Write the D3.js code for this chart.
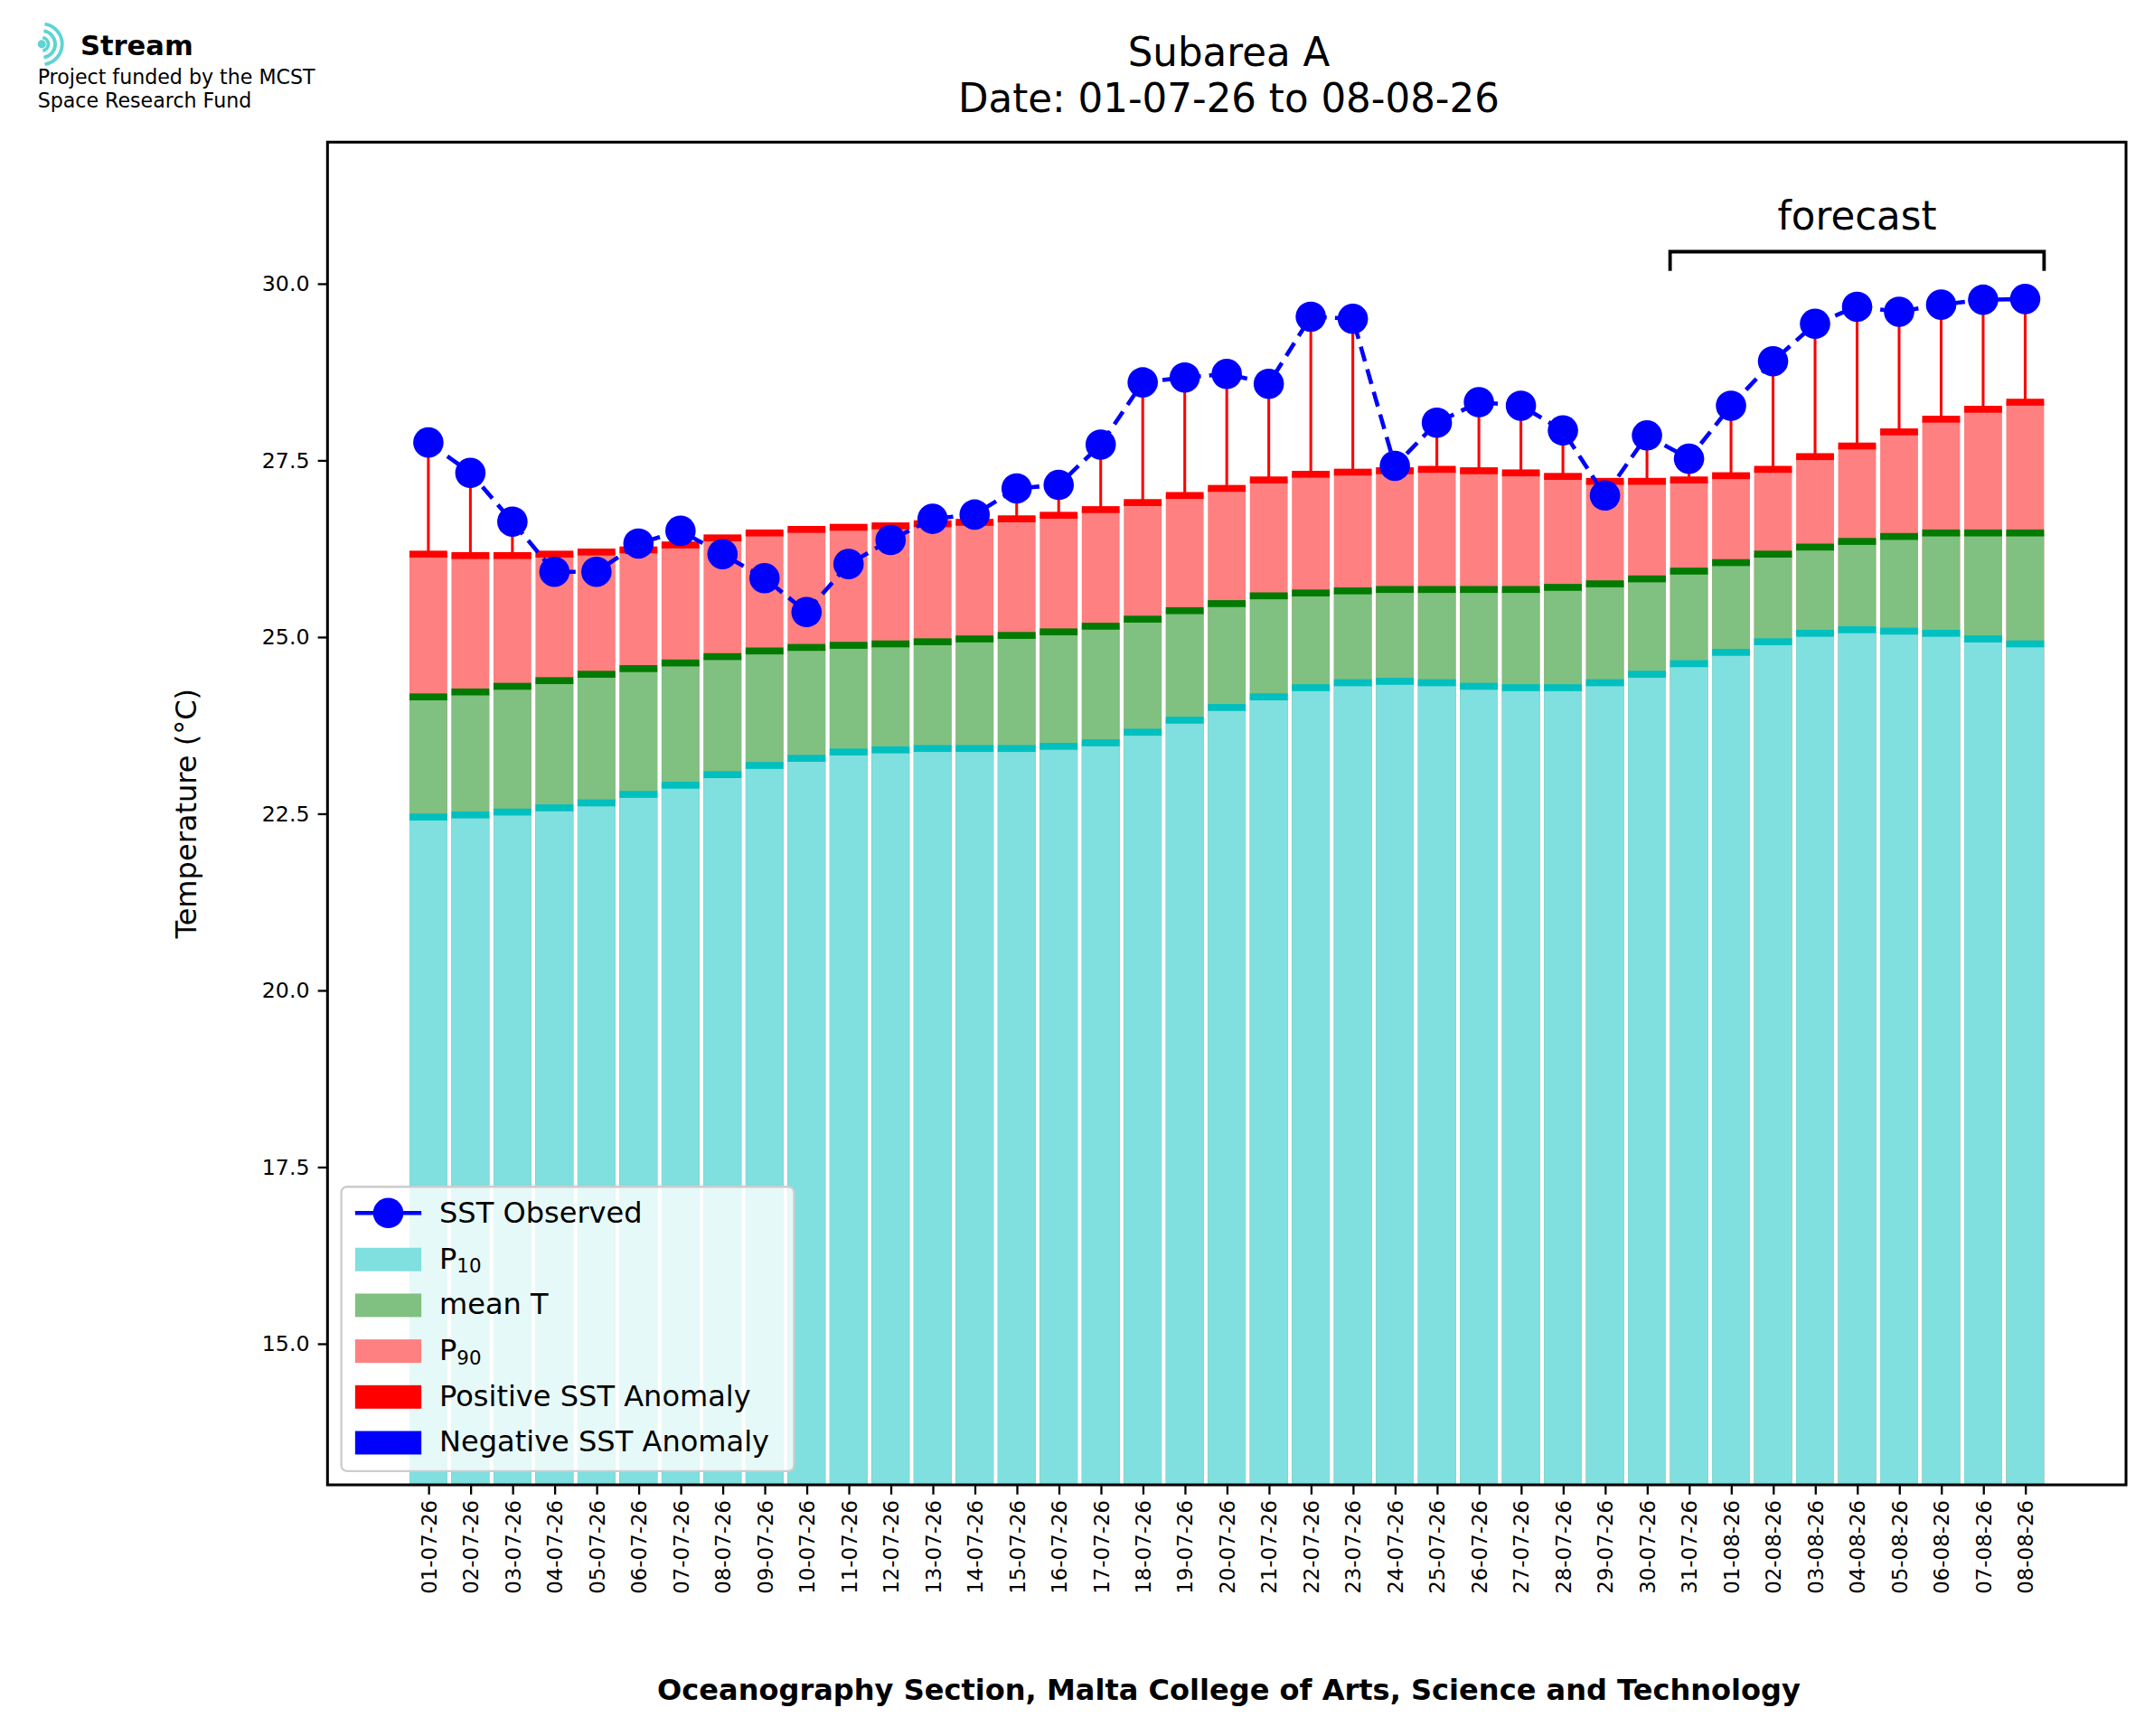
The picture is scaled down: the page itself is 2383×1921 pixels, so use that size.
<!DOCTYPE html>
<html><head><meta charset="utf-8">
<script src="https://cdn.jsdelivr.net/npm/d3@7"></script>
<style>body{margin:0;background:#fff}text{font-family:"DejaVu Sans",sans-serif}</style>
</head><body>
<svg width="2383" height="1921" viewBox="0 0 1560 1258"></svg>
<script>
var dates = ['01-07-26','02-07-26','03-07-26','04-07-26','05-07-26','06-07-26','07-07-26','08-07-26','09-07-26','10-07-26',
  '11-07-26','12-07-26','13-07-26','14-07-26','15-07-26','16-07-26','17-07-26','18-07-26','19-07-26','20-07-26',
  '21-07-26','22-07-26','23-07-26','24-07-26','25-07-26','26-07-26','27-07-26','28-07-26','29-07-26','30-07-26',
  '31-07-26','01-08-26','02-08-26','03-08-26','04-08-26','05-08-26','06-08-26','07-08-26','08-08-26'];
var p10 = [22.45,22.48,22.52,22.58,22.65,22.77,22.9,23.05,23.18,23.28,23.37,23.4,23.42,23.42,23.42,23.45,23.5,23.65,23.82,24.0,
  24.15,24.28,24.35,24.37,24.35,24.3,24.28,24.28,24.35,24.47,24.62,24.78,24.93,25.05,25.1,25.08,25.05,24.97,24.9];
var meanT = [24.15,24.22,24.3,24.38,24.47,24.55,24.63,24.72,24.8,24.85,24.88,24.9,24.93,24.97,25.02,25.07,25.15,25.25,25.37,25.47,
  25.58,25.62,25.65,25.67,25.67,25.67,25.67,25.7,25.75,25.82,25.93,26.05,26.17,26.27,26.35,26.42,26.47,26.47,26.47];
var p90 = [26.17,26.15,26.15,26.17,26.2,26.23,26.3,26.4,26.47,26.52,26.55,26.57,26.6,26.62,26.67,26.72,26.8,26.9,27.0,27.1,
  27.22,27.3,27.33,27.35,27.37,27.35,27.32,27.27,27.2,27.2,27.22,27.28,27.37,27.55,27.7,27.9,28.08,28.22,28.32];
var sst = [27.75,27.32,26.63,25.92,25.92,26.32,26.5,26.17,25.83,25.35,26.03,26.37,26.67,26.73,27.1,27.15,27.72,28.6,28.67,28.72,
  28.58,29.53,29.5,27.42,28.03,28.32,28.27,27.92,27.0,27.85,27.52,28.27,28.9,29.43,29.67,29.6,29.7,29.77,29.78];
var yTicks = [15.0,17.5,20.0,22.5,25.0,27.5,30.0];
var forecastStart = 30; // index of 31-07-26

var svg = d3.select('svg');
var L = 237, R = 1540, T = 103, B = 1076;
var x = d3.scaleLinear().domain([-2.4, 40.4]).range([L, R]);
var y = d3.scaleLinear().domain([13, 32]).range([B, T]);
var bw = x(0.9) - x(0);
var g = svg.append('g');
g.append('clipPath').attr('id','clip').append('rect').attr('x',L).attr('y',T).attr('width',R-L).attr('height',B-T);
var plot = g.append('g').attr('clip-path','url(#clip)');

function bars(vals, fill, cap) {
  plot.selectAll(null).data(vals).enter().append('rect')
    .attr('x', function(d,i){ return x(i) - bw/2; }).attr('width', bw)
    .attr('y', function(d){ return y(d); }).attr('height', function(d){ return y(13) - y(d); })
    .attr('fill', fill);
  plot.selectAll(null).data(vals).enter().append('rect')
    .attr('x', function(d,i){ return x(i) - bw/2; }).attr('width', bw)
    .attr('y', function(d){ return y(d) - 2.5; }).attr('height', 5)
    .attr('fill', cap);
}
bars(p90, '#ff8080', '#ff0000');
bars(meanT, '#80c080', '#007a00');
bars(p10, '#80dfdf', '#00bfbf');

sst.forEach(function(v,i){
  if (v > p90[i]) plot.append('line').attr('x1',x(i)).attr('x2',x(i)).attr('y1',y(p90[i])).attr('y2',y(v))
    .attr('stroke','#ff0000').attr('stroke-width',2);
  else if (v < p10[i]) plot.append('line').attr('x1',x(i)).attr('x2',x(i)).attr('y1',y(p10[i])).attr('y2',y(v))
    .attr('stroke','#0000ff').attr('stroke-width',2);
});

var line = d3.line().x(function(d,i){ return x(i); }).y(function(d){ return y(d); });
plot.append('path').datum(sst).attr('d', line).attr('fill','none').attr('stroke','#0000ff')
  .attr('stroke-width',3).attr('stroke-dasharray','11,6');
plot.selectAll(null).data(sst).enter().append('circle')
  .attr('cx', function(d,i){ return x(i); }).attr('cy', function(d){ return y(d); })
  .attr('r', 11).attr('fill','#0000ff');

var fx1 = x(forecastStart - 0.45), fx2 = x(dates.length - 1 + 0.45), fy = y(30.45);
g.append('path').attr('d','M'+fx1+','+(fy+14)+'V'+fy+'H'+fx2+'V'+(fy+14))
  .attr('fill','none').attr('stroke','#000').attr('stroke-width',2.5);
g.append('text').attr('x',(fx1+fx2)/2).attr('y',fy-16).attr('text-anchor','middle')
  .attr('font-size',28.5).text('forecast');

var ya = g.append('g').attr('transform','translate('+L+',0)')
  .call(d3.axisLeft(y).tickValues(yTicks).tickFormat(d3.format('.1f')).tickSize(7).tickPadding(6));
ya.selectAll('text').attr('font-size',15.5);
var xa = g.append('g').attr('transform','translate(0,'+B+')')
  .call(d3.axisBottom(x).tickValues(d3.range(dates.length)).tickFormat(function(i){ return dates[i]; }).tickSize(7));
xa.selectAll('text').attr('font-size',15).attr('text-anchor','end')
  .attr('transform','rotate(-90)').attr('x',-11).attr('y',0).attr('dy','0.35em');
g.selectAll('.domain').remove();
g.selectAll('.tick line').attr('stroke','#000').attr('stroke-width',1.5);
g.append('rect').attr('x',L).attr('y',T).attr('width',R-L).attr('height',B-T)
  .attr('fill','none').attr('stroke','#000').attr('stroke-width',2);

svg.append('text').attr('transform','translate(142,'+((T+B)/2)+') rotate(-90)').attr('text-anchor','middle')
  .attr('font-size',21).text('Temperature (°C)');
svg.append('text').attr('x',890).attr('y',1232).attr('text-anchor','middle').attr('font-size',21)
  .attr('font-weight','bold').text('Oceanography Section, Malta College of Arts, Science and Technology');
svg.append('text').attr('x',890).attr('y',48).attr('text-anchor','middle').attr('font-size',28.5).text('Subarea A');
svg.append('text').attr('x',890).attr('y',81).attr('text-anchor','middle').attr('font-size',28.5).text('Date: 01-07-26 to 08-08-26');

var lg = svg.append('g');
[6,11,16].forEach(function(r){
  lg.append('path').attr('d', d3.arc()({innerRadius:r-2.5,outerRadius:r,startAngle:0.15,endAngle:Math.PI-0.15}))
    .attr('transform','translate(30,32)').attr('fill','#5fd3d3');
});
lg.append('circle').attr('cx',30).attr('cy',32).attr('r',3).attr('fill','#5fd3d3');
lg.append('text').attr('x',58).attr('y',40).attr('font-size',20).attr('font-weight','bold').text('Stream');
lg.append('text').attr('x',27).attr('y',61).attr('font-size',14.5).text('Project funded by the MCST');
lg.append('text').attr('x',27).attr('y',78).attr('font-size',14.5).text('Space Research Fund');

var leg = svg.append('g').attr('transform','translate(247,860)');
leg.append('rect').attr('width',328).attr('height',206).attr('rx',4).attr('fill','rgba(255,255,255,0.8)')
  .attr('stroke','#ccc').attr('stroke-width',1.5);
var items = [
  {t:'SST Observed', k:'line'},
  {t:'P', sub:'10', c:'#80dfdf'},
  {t:'mean T', c:'#80c080'},
  {t:'P', sub:'90', c:'#ff8080'},
  {t:'Positive SST Anomaly', c:'#ff0000'},
  {t:'Negative SST Anomaly', c:'#0000ff'}];
items.forEach(function(it,i){
  var yy = 19 + i*33.2;
  if (it.k === 'line') {
    leg.append('line').attr('x1',10).attr('x2',58).attr('y1',yy).attr('y2',yy).attr('stroke','#0000ff').attr('stroke-width',3);
    leg.append('circle').attr('cx',34).attr('cy',yy).attr('r',11).attr('fill','#0000ff');
  } else {
    leg.append('rect').attr('x',10).attr('y',yy-8).attr('width',48).attr('height',17).attr('fill',it.c);
  }
  var t = leg.append('text').attr('x',71).attr('y',yy+7).attr('font-size',21).text(it.t);
  if (it.sub) t.append('tspan').attr('font-size',14).attr('dy',3).text(it.sub);
});
</script>
</body></html>
